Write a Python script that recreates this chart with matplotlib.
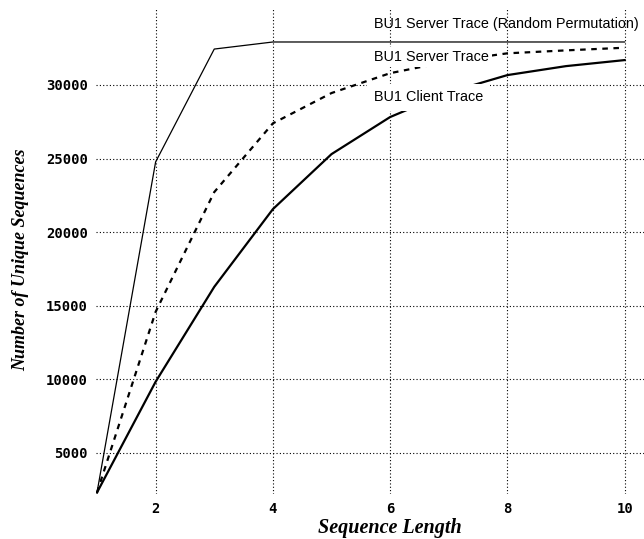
import matplotlib
matplotlib.use("Agg")
import matplotlib.pyplot as plt

seq_len = [1, 2, 3, 4, 5, 6, 7, 8, 9, 10]
random_perm = [2300, 24770, 32440, 32920, 32920, 32920, 32920, 32920, 32920, 32920]
server_trace = [2300, 14580, 22720, 27390, 29450, 30800, 31600, 32150, 32350, 32530]
client_trace = [2300, 9830, 16280, 21560, 25300, 27820, 29500, 30670, 31280, 31690]

x_ticks = [2, 4, 6, 8, 10]
y_ticks = [5000, 10000, 15000, 20000, 25000, 30000]

labels = ["BU1 Server Trace (Random Permutation)", "BU1 Server Trace", "BU1 Client Trace"]

fig = plt.figure(figsize=(6.44, 5.39), dpi=100)
ax = fig.add_axes([96/644, 45/539, 1 - 96/644, (494 - 8)/539])

ax.plot(seq_len, random_perm, color="black", lw=0.9, zorder=3)
ax.plot(seq_len, server_trace, color="black", lw=1.6, linestyle=(0, (2.5, 2.5)), zorder=3)
ax.plot(seq_len, client_trace, color="black", lw=1.6, zorder=3)

ax.set_xlim(0.983, 10.33)
ax.set_ylim(2200, 35230)
ax.set_xticks(x_ticks)
ax.set_yticks(y_ticks)
ax.set_xticklabels([str(v) for v in x_ticks])
ax.set_yticklabels([str(v) for v in y_ticks])

for s in ax.spines.values():
    s.set_visible(False)
ax.tick_params(length=0, pad=6)
for lab in ax.get_xticklabels() + ax.get_yticklabels():
    lab.set_fontfamily("DejaVu Sans Mono")
    lab.set_fontweight("bold")
    lab.set_fontsize(10)

ax.grid(True, color="black", linestyle=(0, (1, 2)), lw=0.8, zorder=1)

ax.set_xlabel("Sequence Length", family="Liberation Serif", style="italic",
              weight="bold", fontsize=14.5, labelpad=1.5)
ax.set_ylabel("Number of Unique Sequences", family="Liberation Serif", style="italic",
              weight="bold", fontsize=13, labelpad=12)
ax.xaxis.label.set_x(0.536)
ax.yaxis.label.set_y(0.481)

text_x = 5.73
ax.text(text_x, 34150, labels[0], family="Liberation Sans", fontsize=10.4,
        va="center", ha="left", zorder=4)
ax.text(text_x, 31900, labels[1], family="Liberation Sans", fontsize=10.4,
        va="center", ha="left", zorder=4,
        bbox=dict(facecolor="white", edgecolor="none", pad=2))
ax.text(text_x, 29150, labels[2], family="Liberation Sans", fontsize=10.4,
        va="center", ha="left", zorder=4,
        bbox=dict(facecolor="white", edgecolor="none", pad=5))

fig.savefig("out.png", dpi=100)
